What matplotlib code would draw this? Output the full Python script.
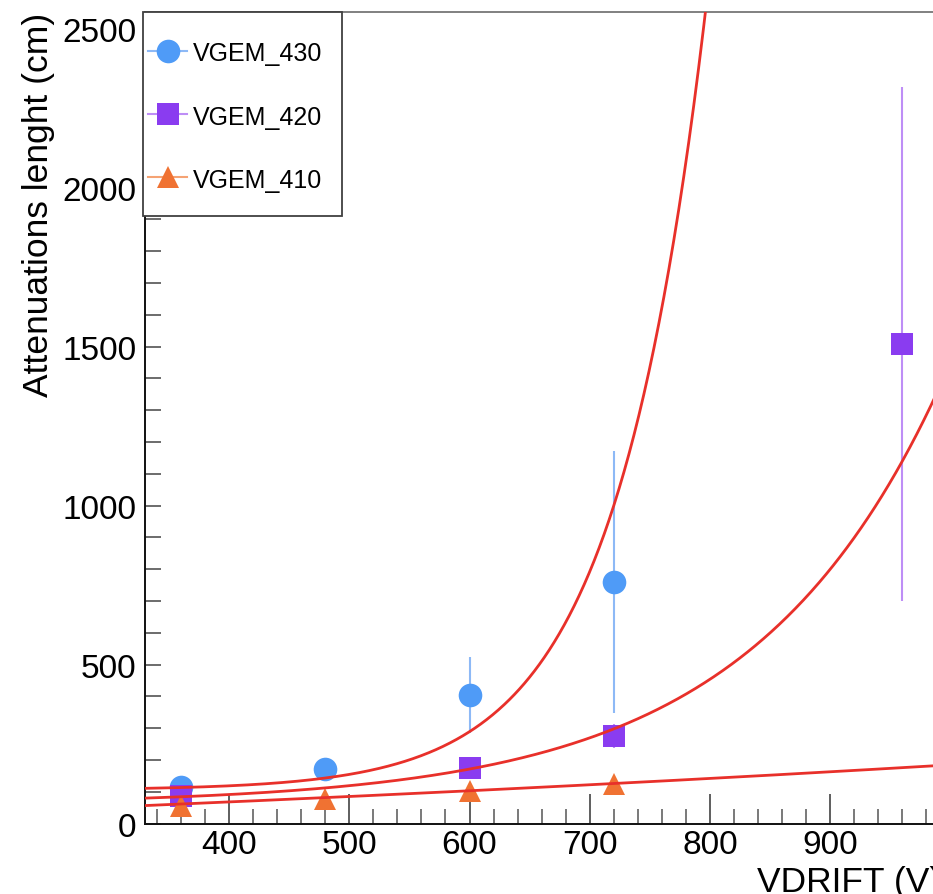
import numpy as np
import matplotlib
matplotlib.use("Agg")
import matplotlib.pyplot as plt
from matplotlib.ticker import MultipleLocator
from matplotlib.patches import Rectangle
from matplotlib.lines import Line2D

# ---- measured attenuation lengths (cm) versus drift voltage (V) ----
vdrift_430 = [360, 480, 600, 720]
att_430 = [115, 172, 405, 759]
err_430 = [12, 14, 120, 412]

vdrift_420 = [360, 600, 720, 960]
att_420 = [86, 175, 277, 1508]
err_420 = [10, 12, 38, 808]

vdrift_410 = [360, 480, 600, 720]
att_410 = [57, 79, 104, 125]
err_410 = [6, 7, 8, 9]

series_labels = ["VGEM_430", "VGEM_420", "VGEM_410"]

# fit model: p0 + p1 * exp(p2 * (V - 720))
fit_430 = [106.0, 894.0, 0.0132]
fit_420 = [60.0, 238.0, 0.0063]
fit_410 = [-265.0, 391.3, 0.0005]

x_range = (330, 992)
y_range = (0, 2552)

marker_colors = ["#4F9BF7", "#8A3CF0", "#F07232"]
bar_colors = ["#8DB9F6", "#BE8EF6", "#F5A374"]
markers = ["o", "s", "^"]
fit_color = "#E8302A"

W, H = 933, 895
fig = plt.figure(figsize=(W / 100, H / 100), dpi=100)
ax = fig.add_axes([145 / W, (H - 824.7) / H, 795.7 / W, 811.7 / H])

font = "Liberation Sans"
plt.rcParams["font.family"] = [font, "DejaVu Sans"]

datasets = [
    (vdrift_430, att_430, err_430),
    (vdrift_420, att_420, err_420),
    (vdrift_410, att_410, err_410),
]
for (vx, vy, ve), mc, bc, mk in zip(datasets, marker_colors, bar_colors, markers):
    ax.errorbar(vx, vy, yerr=ve, fmt=mk, ms=17 if mk == "o" else 16.5,
                mfc=mc, mec=mc, mew=0, ecolor=bc, elinewidth=1.5,
                capsize=3.0, capthick=1.5, zorder=3)

xs = np.linspace(x_range[0], x_range[1], 800)
for p in (fit_430, fit_420, fit_410):
    ax.plot(xs, p[0] + p[1] * np.exp(p[2] * (xs - 720)), color=fit_color,
            lw=2.0, zorder=4)

ax.set_xlim(*x_range)
ax.set_ylim(*y_range)
ax.xaxis.set_major_locator(MultipleLocator(100))
ax.xaxis.set_minor_locator(MultipleLocator(20))
ax.yaxis.set_major_locator(MultipleLocator(500))
ax.yaxis.set_minor_locator(MultipleLocator(100))

ax.tick_params(axis="x", which="major", direction="in", length=21.6, width=1.1,
               color="#333333", labelsize=24, pad=4)
ax.tick_params(axis="x", which="minor", direction="in", length=10.8, width=1.1,
               color="#555555")
ax.tick_params(axis="y", which="both", direction="in", length=11.5, width=1.1,
               color="#444444", labelsize=24, pad=6)
ax.tick_params(top=False, right=False)
for lab in ax.get_xticklabels() + ax.get_yticklabels():
    lab.set_family(font)

for side in ("left", "bottom"):
    ax.spines[side].set_color("#111111")
    ax.spines[side].set_linewidth(1.4)
ax.spines["top"].set_color("#808080")
ax.spines["top"].set_linewidth(1.4)
ax.spines["right"].set_visible(False)

fig.text(941 / W, 1 - 891.7 / H, "VDRIFT (V)", ha="right", va="baseline",
         fontsize=25.5, family=font)
fig.text(22 / W, 1 - 13 / H, "Attenuations lenght (cm)", rotation=90,
         ha="left", va="top", fontsize=25.5, family=font)


# legend box, placed in figure pixels measured from the top-left corner
def fx(px):
    return px / W


def fy(py):
    return 1 - py / H


fig.add_artist(Rectangle((fx(142.7), fy(217.3)), fx(341.7) - fx(142.7),
                         fy(13.3) - fy(217.3), transform=fig.transFigure,
                         facecolor="white", edgecolor="#404040", lw=1.3,
                         zorder=5))
rows = [51.7, 115.0, 178.3]
for label, mc, bc, mk, ry in zip(series_labels, marker_colors, bar_colors,
                                 markers, rows):
    fig.add_artist(Line2D([fx(148), fx(186.7)], [fy(ry), fy(ry)],
                          transform=fig.transFigure, color=bc, lw=1.5,
                          zorder=6))
    fig.add_artist(Line2D([fx(168.3)], [fy(ry)], transform=fig.transFigure,
                          marker=mk, ms=17 if mk == "o" else 16.5, mfc=mc,
                          mec=mc, mew=0, ls="none", zorder=7))
    fig.text(fx(193.3), fy(ry), label, ha="left", va="center_baseline",
             fontsize=18, family=font, zorder=8)

fig.savefig("out.png", dpi=100)
